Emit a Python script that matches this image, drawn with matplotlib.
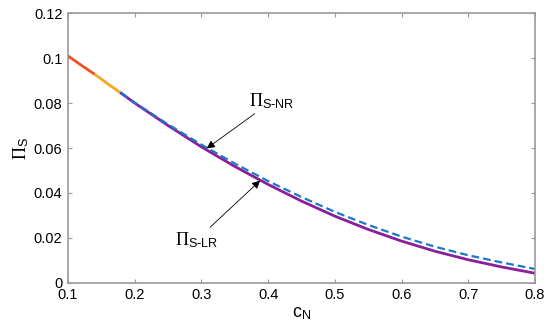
import matplotlib
matplotlib.use("Agg")
import matplotlib.pyplot as plt

# ---- data ----
c_red = [0.10, 0.12, 0.14]
v_red = [0.1010, 0.0968, 0.0928]
c_orange = [0.14, 0.16, 0.18]
v_orange = [0.0928, 0.0885, 0.0843]
c_main = [0.18, 0.20, 0.25, 0.30, 0.35, 0.40, 0.45, 0.50, 0.55, 0.60, 0.65, 0.70, 0.75, 0.80]
v_lr = [0.0843, 0.0800, 0.0700, 0.0605, 0.0518, 0.0438, 0.0364, 0.0297, 0.0238, 0.0186, 0.0141, 0.0103, 0.0071, 0.0043]
v_nr = [0.0845, 0.0802, 0.0705, 0.0615, 0.0531, 0.0453, 0.0382, 0.0316, 0.0258, 0.0206, 0.0161, 0.0123, 0.0091, 0.0062]
xticks = [0.1, 0.2, 0.3, 0.4, 0.5, 0.6, 0.7, 0.8]
yticks = [0, 0.02, 0.04, 0.06, 0.08, 0.1, 0.12]
ytick_labels = ['0', '0.02', '0.04', '0.06', '0.08', '0.1', '0.12']

plt.rcParams['font.family'] = ['Liberation Sans', 'DejaVu Sans']
plt.rcParams['mathtext.fontset'] = 'custom'
plt.rcParams['mathtext.rm'] = 'Liberation Serif'
plt.rcParams['mathtext.sf'] = 'Liberation Sans'
plt.rcParams['mathtext.it'] = 'Liberation Serif:italic'

fig = plt.figure(figsize=(5.5, 3.36), dpi=100)
ax = fig.add_axes([0.1236, 0.158, 0.8491, 0.803])

ax.plot(c_red, v_red, color='#F0501E', lw=2, solid_capstyle='butt')
ax.plot(c_orange, v_orange, color='#F5A623', lw=2, solid_capstyle='butt')
ax.plot(c_main, v_lr, color='#8A1E9B', lw=2)
ax.plot(c_main, v_nr, color='#1D78C8', lw=1.6, ls=(0, (3.5, 1.8)))

ax.set_xlim(0.1, 0.8)
ax.set_ylim(0, 0.12)
ax.set_xticks(xticks)
ax.set_xticklabels([f'{t:g}' for t in xticks])
ax.set_yticks(yticks)
ax.set_yticklabels(ytick_labels)
ax.tick_params(direction='in', length=3, color='#999999', labelsize=10.5, pad=4)
for s in ax.spines.values():
    s.set_color('#999999')
    s.set_linewidth(1.2)
ax.tick_params(top=True, right=True)

ax.set_xlabel(r'$\mathsf{c}_{\mathsf{N}}$', fontsize=13, labelpad=2)
ax.set_ylabel(r'$\Pi_{\mathsf{S}}$', fontsize=13, labelpad=2)

ax.annotate(r'$\Pi_{\mathsf{S\text{-}NR}}$', xy=(0.308, 0.0598), xytext=(0.372, 0.0765),
            fontsize=13, ha='left', va='bottom',
            arrowprops=dict(arrowstyle='-|>', color='black', lw=0.6,
                            mutation_scale=12, shrinkA=0, shrinkB=0))
ax.annotate(r'$\Pi_{\mathsf{S\text{-}LR}}$', xy=(0.388, 0.0455), xytext=(0.325, 0.0235),
            fontsize=13, ha='right', va='top',
            arrowprops=dict(arrowstyle='-|>', color='black', lw=0.6,
                            mutation_scale=12, shrinkA=0, shrinkB=0))

fig.savefig('out.png', dpi=100)
